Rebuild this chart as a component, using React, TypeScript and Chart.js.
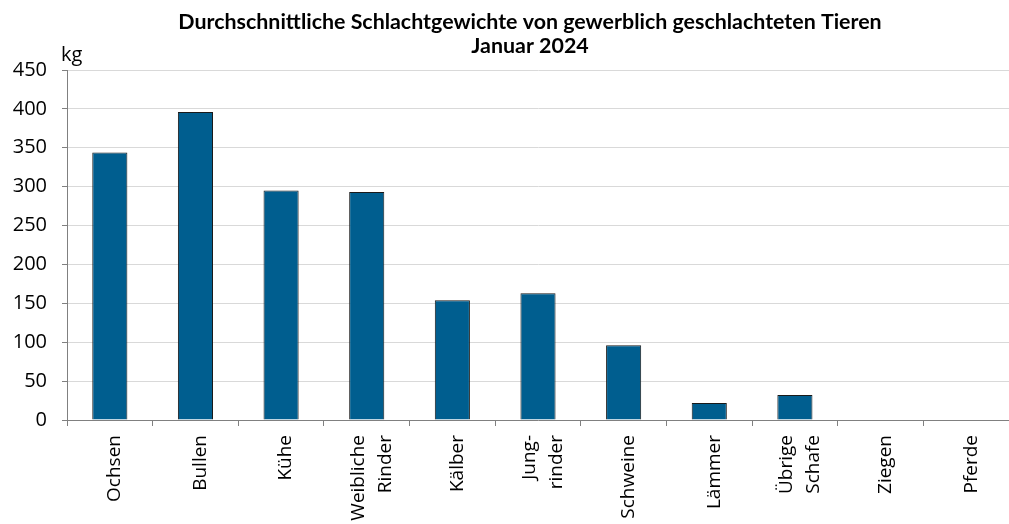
import React, { useEffect, useRef } from "react";
import { Chart, registerables } from "chart.js";

Chart.register(...registerables);

const titleLines = [
  "Durchschnittliche Schlachtgewichte von gewerblich geschlachteten Tieren",
  "Januar 2024",
];
const unitLabel = "kg";
const categories: (string | string[])[] = [
  "Ochsen",
  "Bullen",
  "Kühe",
  ["Weibliche", "Rinder"],
  "Kälber",
  ["Jung-", "rinder"],
  "Schweine",
  "Lämmer",
  ["Übrige", "Schafe"],
  "Ziegen",
  "Pferde",
];
const weights: (number | null)[] = [344, 396, 295, 293, 154, 163, 96, 22, 32, null, null];
const yMin = 0;
const yMax = 450;
const yStep = 50;

const tweakPlugin = {
  id: "tweaks",
  afterLayout(chart: any) {
    const t = chart.titleBlock;
    if (t) t.left -= 16;
  },
  afterUpdate(chart: any) {
    const scale = chart.scales.x;
    const items = scale.getLabelItems();
    items.forEach((item: any) => {
      if (Array.isArray(item.label) && item.label.length > 1) {
        const lh = item.font.lineHeight;
        item.options.translation[0] -= ((item.label.length - 1) * lh) / 2;
      }
    });
  },
  afterDraw(chart: any) {
    const { ctx, chartArea } = chart;
    ctx.save();
    ctx.font = "20px 'Open Sans'";
    ctx.fillStyle = "#000";
    ctx.textAlign = "left";
    ctx.textBaseline = "alphabetic";
    ctx.fillText(unitLabel, chartArea.left - 6, chartArea.top - 9);
    ctx.restore();
  },
};

export default function App() {
  const ref = useRef<HTMLCanvasElement | null>(null);
  useEffect(() => {
    document.body.style.margin = "0";
    const canvas = ref.current;
    if (!canvas) return;
    const chart = new Chart(canvas, {
      type: "bar",
      data: {
        labels: categories,
        datasets: [
          {
            data: weights,
            backgroundColor: "#005e8f",
            borderColor: "#1a1a1a",
            borderWidth: 1,
            barPercentage: 0.41,
            categoryPercentage: 1,
          },
        ],
      },
      options: {
        animation: false,
        responsive: false,
        maintainAspectRatio: false,
        layout: { padding: { left: 0, right: 0, top: 0, bottom: 0 } },
        plugins: {
          legend: { display: false },
          tooltip: { enabled: false },
          title: {
            display: true,
            text: titleLines,
            fullSize: false,
            color: "#000",
            font: { family: "Lato", size: 21.4, weight: "bold", lineHeight: 24 / 21.4 },
            padding: { top: 10, bottom: 12 },
          },
        },
        scales: {
          x: {
            grid: {
              display: true,
              drawOnChartArea: false,
              drawTicks: true,
              tickLength: 6,
              color: "#808080",
              offset: true,
            },
            border: { color: "#808080", width: 1 },
            ticks: {
              autoSkip: false,
              maxRotation: 90,
              minRotation: 90,
              padding: 9,
              labelOffset: 5,
              color: "#000",
              font: { family: "Open Sans", size: 19, lineHeight: 1.42 },
            },
            afterFit(scale: any) {
              scale.height = 104;
            },
          },
          y: {
            min: yMin,
            max: yMax,
            ticks: {
              stepSize: yStep,
              padding: 15,
              color: "#000",
              font: { family: "Open Sans", size: 20 },
            },
            grid: {
              color: "#d9d9d9",
              tickLength: 5,
              tickColor: "#808080",
              drawTicks: true,
            },
            border: { color: "#808080", width: 1 },
            afterFit(scale: any) {
              scale.width = 67;
            },
          },
        },
      },
      plugins: [tweakPlugin],
    });
    return () => chart.destroy();
  }, []);
  return (
    <div style={{ width: 1009, height: 524 }}>
      <canvas ref={ref} width={1009} height={524} />
    </div>
  );
}
